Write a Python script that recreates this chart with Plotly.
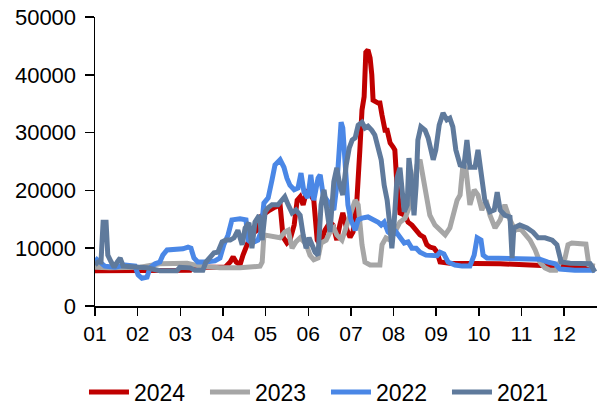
import plotly.graph_objects as go

# x positions are fractional month indices (0 = start of month 01)
month_labels = ["01", "02", "03", "04", "05", "06", "07", "08", "09", "10", "11", "12"]
series_names = ["2024", "2023", "2022", "2021"]

x_2024 = [0.00, 0.23, 0.59, 2.23, 2.27, 2.70, 3.05, 3.17, 3.24, 3.31, 3.40, 3.47, 3.56, 3.63, 3.70, 3.80,
          3.87, 3.99, 4.10, 4.22, 4.34, 4.41, 4.50, 4.57, 4.67, 4.74, 4.81, 4.88, 4.97, 5.04, 5.13, 5.21,
          5.28, 5.39, 5.51, 5.58, 5.67, 5.74, 5.81, 5.91, 5.98, 6.05, 6.14, 6.21, 6.26, 6.31, 6.35, 6.40,
          6.45, 6.49, 6.52, 6.64, 6.68, 6.73, 6.80, 6.85, 6.92, 6.99, 7.03, 7.08, 7.15, 7.27, 7.34, 7.43,
          7.53, 7.62, 7.71, 7.78, 7.85, 7.95, 8.02, 8.09, 8.32, 8.79, 9.50, 10.20, 10.90, 11.25, 11.61, 11.72]
v_2024 = [6100, 6100, 6200, 6200, 6700, 6700, 6700, 7600, 8500, 7600, 7100, 8800, 10600, 11800, 12600, 13100,
          15400, 16100, 16600, 17100, 17500, 11900, 10900, 11400, 14000, 18300, 18900, 17500, 20100, 19500, 18300, 11400,
          10600, 13100, 14500, 14000, 11400, 14000, 16100, 13100, 11900, 12800, 18300, 27000, 33900, 36200, 43900, 44300,
          42900, 40000, 35600, 35100, 35100, 33000, 30400, 30400, 28200, 27500, 27000, 20900, 16100, 15700, 14500, 14000,
          13100, 12300, 11900, 10600, 10200, 10000, 9300, 7600, 7400, 7400, 7300, 7100, 6900, 6700, 6600, 6600]

x_2023 = [0.00, 0.35, 1.06, 1.52, 2.16, 2.46, 2.93, 3.40, 3.87, 3.92, 3.96, 4.10, 4.34, 4.45, 4.53, 4.62,
          4.71, 4.81, 4.95, 5.04, 5.13, 5.23, 5.30, 5.42, 5.51, 5.60, 5.67, 5.79, 5.91, 5.98, 6.10, 6.17,
          6.21, 6.26, 6.33, 6.45, 6.68, 6.73, 6.82, 6.92, 7.03, 7.15, 7.27, 7.39, 7.48, 7.55, 7.62, 7.69,
          7.78, 7.85, 7.97, 8.09, 8.21, 8.32, 8.39, 8.49, 8.56, 8.63, 8.70, 8.79, 8.89, 8.98, 9.07, 9.17,
          9.26, 9.38, 9.50, 9.61, 9.73, 9.85, 9.96, 10.08, 10.20, 10.32, 10.43, 10.55, 10.67, 10.81, 10.90, 11.02,
          11.09, 11.18, 11.37, 11.51, 11.58, 11.72]
v_2023 = [6700, 6600, 6700, 7300, 7400, 6900, 6600, 6600, 6900, 7600, 12300, 12100, 11800, 12800, 13100, 10000,
          11100, 11800, 10700, 8800, 8000, 8300, 10900, 11400, 12800, 13500, 12300, 11400, 14500, 15700, 18300, 17500,
          14500, 10600, 7600, 7100, 7100, 10600, 11800, 11400, 12800, 14500, 15200, 17500, 20900, 24400, 25300, 22100,
          18300, 15700, 14000, 13100, 12300, 13500, 15700, 18300, 19200, 24700, 23500, 17500, 20100, 19200, 16600, 18300,
          15700, 13500, 14900, 17500, 14900, 13100, 13500, 12300, 11400, 9700, 7600, 6600, 6200, 6200, 7600, 8300,
          10600, 10900, 10700, 10700, 7100, 6900]

x_2022 = [0.00, 0.12, 0.23, 0.47, 0.70, 0.94, 1.01, 1.10, 1.22, 1.29, 1.41, 1.52, 1.59, 1.69, 1.88, 2.06,
          2.18, 2.25, 2.32, 2.41, 2.58, 2.81, 2.93, 3.02, 3.12, 3.21, 3.40, 3.54, 3.59, 3.68, 3.82, 3.89,
          3.96, 4.06, 4.15, 4.22, 4.34, 4.43, 4.50, 4.57, 4.67, 4.76, 4.83, 4.90, 4.99, 5.06, 5.13, 5.23,
          5.28, 5.35, 5.44, 5.53, 5.60, 5.67, 5.72, 5.77, 5.81, 5.86, 5.93, 6.00, 6.10, 6.17, 6.26, 6.40,
          6.54, 6.64, 6.71, 6.78, 6.87, 6.96, 7.06, 7.15, 7.25, 7.34, 7.43, 7.53, 7.62, 7.76, 7.90, 8.02,
          8.09, 8.18, 8.28, 8.44, 8.61, 8.79, 8.89, 8.96, 9.05, 9.10, 9.19, 9.50, 9.96, 10.43, 10.62, 10.79,
          10.90, 11.25, 11.72]
v_2022 = [8300, 7600, 6900, 6700, 7100, 6900, 5400, 4800, 5000, 6600, 7300, 7600, 8800, 9700, 9700, 9900,
          10200, 10000, 8300, 7600, 7600, 7800, 8300, 10600, 12300, 14900, 15100, 14900, 11400, 10900, 11400, 12800,
          17800, 18700, 21800, 24400, 25300, 24000, 22100, 20900, 20100, 20400, 23000, 19700, 18700, 22700, 18300, 22100,
          22700, 19200, 18300, 17500, 16600, 20900, 27000, 31800, 30800, 24400, 17500, 14900, 13100, 14900, 15200, 15400,
          14900, 14500, 14000, 14500, 12800, 12300, 12800, 11800, 10900, 11100, 10000, 10000, 9300, 8800, 8700, 8700,
          9300, 9000, 7600, 7100, 6900, 6900, 8800, 11800, 11400, 8800, 8300, 8300, 8300, 8100, 7600, 7300,
          6400, 6200, 6200]

x_2021 = [0.00, 0.07, 0.14, 0.19, 0.26, 0.30, 0.38, 0.45, 0.52, 0.59, 0.66, 0.94, 1.22, 1.52, 1.92, 1.99,
          2.23, 2.34, 2.53, 2.60, 2.70, 2.79, 2.88, 2.98, 3.07, 3.17, 3.26, 3.35, 3.45, 3.52, 3.61, 3.68,
          3.75, 3.85, 3.92, 3.99, 4.06, 4.15, 4.29, 4.38, 4.45, 4.53, 4.62, 4.71, 4.81, 4.88, 4.95, 5.02,
          5.09, 5.16, 5.23, 5.30, 5.37, 5.44, 5.51, 5.60, 5.67, 5.74, 5.81, 5.89, 5.96, 6.03, 6.10, 6.17,
          6.26, 6.33, 6.40, 6.49, 6.56, 6.64, 6.71, 6.78, 6.85, 6.92, 6.96, 7.01, 7.08, 7.15, 7.20, 7.25,
          7.32, 7.36, 7.41, 7.48, 7.53, 7.57, 7.64, 7.74, 7.81, 7.88, 7.93, 7.99, 8.07, 8.16, 8.25, 8.32,
          8.39, 8.46, 8.56, 8.65, 8.72, 8.79, 8.91, 8.98, 9.05, 9.14, 9.26, 9.36, 9.43, 9.50, 9.61, 9.73,
          9.78, 9.82, 9.96, 10.13, 10.27, 10.39, 10.55, 10.72, 10.83, 10.93, 11.14, 11.37, 11.61, 11.72]
v_2021 = [7100, 7600, 7600, 14500, 14500, 8800, 7600, 6700, 7600, 8300, 6900, 6700, 6600, 6100, 6100, 6700,
          6600, 6200, 6200, 7600, 8500, 9200, 9300, 11100, 11400, 11400, 11800, 13100, 10600, 13500, 14400, 10000,
          14500, 15700, 11400, 16300, 17000, 17500, 17500, 18300, 18900, 17500, 16100, 16600, 15700, 12300, 10000, 11800,
          10600, 9300, 8800, 17500, 20100, 15700, 12800, 21500, 23900, 20900, 19200, 24400, 27300, 28700, 29100, 31300,
          31800, 30800, 31100, 30400, 29600, 27300, 25300, 20900, 18300, 13500, 10000, 14000, 22100, 23900, 20100, 16300,
          17500, 25600, 22700, 15700, 20900, 28700, 31000, 30400, 29100, 27000, 25300, 27000, 31300, 33400, 32200, 32500,
          31000, 27000, 24400, 24200, 28700, 24000, 24000, 27000, 23500, 18300, 16300, 16600, 19700, 16600, 15700, 15400,
          8300, 13500, 14000, 13500, 12800, 11800, 11800, 11400, 10600, 7600, 7400, 7300, 7300, 5900]

colors = ["#C00000", "#A6A6A6", "#4A87E6", "#5F7A9C"]
xs = [x_2024, x_2023, x_2022, x_2021]
vs = [v_2024, v_2023, v_2022, v_2021]

FONT = "Liberation Sans, Arial, sans-serif"

fig = go.Figure()
for name, x, v, c in zip(series_names, xs, vs, colors):
    fig.add_trace(go.Scatter(x=x, y=v, name=name, mode="lines",
                             line=dict(color=c, width=5), hoverinfo="skip"))

fig.update_layout(
    width=601, height=408,
    margin=dict(l=95, r=4, t=17, b=102, autoexpand=False),
    paper_bgcolor="white", plot_bgcolor="white",
    font=dict(family=FONT, size=21, color="#000000"),
    showlegend=True,
    legend=dict(orientation="h", xref="container", yref="container",
                x=0.5424, y=0.039, xanchor="center", yanchor="middle",
                font=dict(size=23), entrywidth=66, entrywidthmode="pixels",
                itemwidth=40, tracegroupgap=0),
    xaxis=dict(range=[0, 11.77], tickmode="array", tickvals=list(range(12)), ticktext=month_labels,
               showline=True, linecolor="#000000", linewidth=1.5, showgrid=False, zeroline=False,
               ticks="outside", ticklen=8, tickwidth=1.5, tickcolor="#000000",
               tickfont=dict(size=21), fixedrange=True, automargin=False,
               ticklabeloverflow="allow"),
    yaxis=dict(range=[0, 50000], tickmode="array", tickvals=[0, 10000, 20000, 30000, 40000, 50000],
               ticktext=["0", "10000", "20000", "30000", "40000", "50000"],
               showline=True, linecolor="#000000", linewidth=1.5, showgrid=False, zeroline=False,
               ticks="outside", ticklen=9, tickwidth=1.5, tickcolor="#000000",
               tickfont=dict(size=22), ticklabelstandoff=4, fixedrange=True, automargin=False,
               ticklabeloverflow="allow"),
)

fig.write_html("out.html", config={"displayModeBar": False, "staticPlot": True},
               post_script="document.body.style.margin='0';")
